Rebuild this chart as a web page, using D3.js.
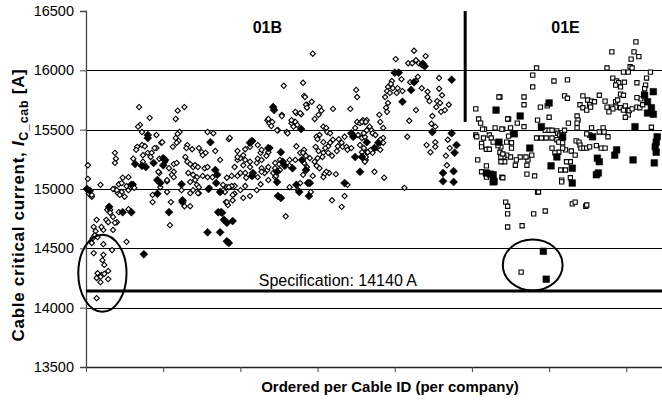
<!DOCTYPE html>
<html>
<head>
<meta charset="utf-8">
<script src="https://cdn.jsdelivr.net/npm/d3@7"></script>
<style>
  html, body { margin: 0; padding: 0; background: #fff; }
  svg { display: block; font-family: "Liberation Sans", Arial, sans-serif; }
</style>
</head>
<body>
<svg id="chart" width="662" height="403"></svg>
<script>
// Cable critical current per cable, ordered by cable ID within each company.
const yTicks = [13500, 14000, 14500, 15000, 15500, 16000, 16500];
const gridValues = [14000, 14500, 15000, 15500, 16000];
const xTicks = [0, 80, 160, 240, 320, 400, 480, 560];
const specValue = 14140;
const specLabel = "Specification: 14140 A";
const companies = ["01B", "01E"];
const companyLabelAt = [188, 497];
const companySplit = 393;           // first cable index of company 01E
const companySplitLow = 15565;      // lower end of the divider line

// [cable index, Ic_cab in A]
const b01Open = [
[2,15200],[2,15085],[3,14960],[6,14935],[15,15035],[31,15255],[30,15220],[34,15040],[30,15000],[33,14965],
[22,14825],[25,14825],[21,14740],[23,14720],[28,14765],[32,14720],[28,14655],[18,14655],[16,14680],[11,14740],
[8,14680],[10,14645],[9,14610],[7,14585],[12,14595],[6,14545],[18,14535],[27,14485],[42,14555],[8,14460],
[18,14445],[17,14400],[19,14360],[23,14310],[12,14290],[16,14275],[19,14285],[15,14260],[11,14250],[23,14240],
[15,14215],[11,14080],[25,14800],[30,14715],[34,14805],[44,14830],[6,14950],[28,15000],[32,14990],[37,14975],
[35,14950],[40,14935],[44,14990],[46,15015],[49,15040],[69,14950],[69,14890],[84,14975],[88,14890],[87,14695],
[102,14855],[108,14855],[117,14965],[111,14990],[128,15010],[145,14890],[147,14865],[154,14960],[146,14890],[177,14990],
[207,14770],[255,14905],[265,14850],[268,14940],[271,15035],[330,15010],
[30,15305],[55,15690],[56,15540],[54,15525],[66,15600],[58,15480],[73,15455],[95,15660],[102,15690],[93,15590],
[97,15480],[95,15465],[93,15430],[96,15405],[126,15480],[132,15470],[148,15420],[78,15390],[58,15370],[61,15360],
[53,15355],[52,15330],[73,15345],[90,15355],[94,15390],[105,15370],[104,15345],[110,15335],[117,15345],[120,15310],
[124,15305],[134,15320],[121,15285],[59,15285],[64,15305],[68,15305],[67,15270],[49,15255],[59,15230],[76,15255],
[82,15230],[91,15210],[94,15220],[103,15270],[105,15230],[108,15210],[111,15185],[113,15200],[116,15185],[123,15175],
[126,15185],[139,15245],[76,15135],[86,15175],[91,15145],[89,15120],[91,15100],[106,15135],[111,15120],[115,15100],
[121,15110],[126,15100],[131,15100],[84,15065],[77,15015],[108,15060],[113,15075],[115,15035],[117,15015],[38,15095],
[44,15100],[37,15050],[42,15025],[49,15035],[50,15010],[99,14990],[108,14965],[116,14965],[146,15015],[146,15095],
[142,15035],[75,15145],[79,15395],[71,15345],[84,15075],
[188,15580],[190,15555],[193,15565],[203,15625],[218,15640],[223,15630],[226,15785],[229,15710],[213,15555],[216,15565],
[208,15480],[199,15495],[191,15345],[181,15305],[218,15360],[222,15305],[226,15330],[211,15245],[201,15160],[196,15100],
[188,15160],[178,15100],[189,15075],[182,15175],[177,15220],[170,15185],[163,15200],[154,15185],[157,15245],[160,15260],
[151,15110],[154,15025],[160,14990],[142,14990],[152,14905],[226,15220],[232,15260],[233,14975],[222,15050],[211,15015],
[235,16140],[205,15870],[225,15895],[280,15835],[281,15775],[227,15775],[234,15735],[228,15710],[229,15685],[242,15690],
[244,15660],[256,15675],[274,15675],[203,15615],[189,15590],[192,15530],[217,15650],[222,15640],[213,15580],[217,15565],
[219,15540],[215,15525],[209,15470],[198,15495],[237,15590],[241,15625],[246,15525],[249,15515],[250,15480],[242,15455],
[239,15440],[240,15420],[246,15395],[238,15355],[241,15320],[246,15305],[253,15470],[256,15415],[262,15420],[268,15440],
[265,15390],[261,15360],[260,15320],[266,15355],[270,15355],[271,15330],[253,15390],[251,15360],[248,15345],[251,15305],
[255,15280],[245,15270],[240,15260],[237,15230],[275,15345],[277,15455],[281,15565],[284,15555],[287,15580],[289,15565],
[291,15580],[279,15515],[282,15455],[286,15430],[289,15440],[284,15370],[288,15345],[291,15310],[290,15245],[289,15230],
[259,15125],[252,15135],[249,15145],[247,15125],[242,15175],[239,15195],[246,15100],[235,15110],[229,15185],[225,15120],
[211,15195],[201,15245],[200,15210],[196,15175],[194,15135],[197,15110],[217,15245],[225,15305],[228,15280],[220,14990],
[185,15135],[181,15040],[165,15245],[165,15135],[170,15230],[160,15135],[157,15110],[166,15095],[165,15025],[170,14940],
[163,14925],[151,15025],[148,15015],[144,14975],[152,14950],[149,15430],[173,15405],[178,15370],[170,15355],[165,15335],
[157,15320],[163,15285],[157,15270],[178,15255],[182,15330],[189,15310],[187,15280],[182,15245],[196,15220],[189,15185],
[182,15145],
[340,16165],[352,16120],[321,16095],[334,16060],[338,16060],[342,16085],[345,16060],[348,16045],[327,15925],[317,15910],
[316,15885],[313,15860],[318,15850],[323,15850],[328,15825],[312,15825],[315,15810],[322,15810],[310,15775],[313,15725],
[311,15685],[312,15650],[304,15625],[305,15565],[308,15515],[335,15575],[342,15665],[336,15900],[342,15910],[344,15945],
[348,15850],[354,15820],[354,15775],[356,15740],[366,15935],[366,15845],[369,15790],[364,15740],[367,15725],[363,15690],
[368,15650],[372,15665],[376,15710],[359,15615],[358,15550],[362,15525],[333,15440],[308,15430],[305,15390],[353,15370],
[362,15395],[362,15355],[357,15310],[375,15415],[377,15345],[373,15280],[374,15200],[299,15145],[309,15095],
[286,15565],[290,15565],[294,15525],[296,15495],[291,15495],[288,15470],[297,15470],[300,15455],[305,15415],[308,15390],
[302,15345],[297,15305],[292,15310],[286,15310],[290,15270],[295,15330],[305,15330]
];

const b01Filled = [
[1,15000],[4,14985],[24,14850],[38,14805],[47,14805],[60,14450],[64,15455],[64,15430],[51,15210],[58,15195],
[70,15220],[82,15245],[74,15075],[77,15050],[99,15040],[100,14905],[74,14960],[86,14805],[100,14890],[129,15395],
[134,15160],[136,15120],[135,15050],[137,14805],[141,14800],[143,14740],[146,14715],[126,14635],[139,14635],[146,14560],
[139,14975],[140,14805],[152,14730],[148,14545],[199,14940],[202,14925],[221,14975],[231,14940],[198,15060],[230,15050],
[268,15050],[194,15690],[195,15665],[223,15505],[275,15470],[277,15440],[291,15395],[279,15270],[286,15270],[284,15145],
[173,15135],[172,15110],[172,15405],[189,15345],[170,15390],[202,15310],[204,15230],[206,15195],[214,15175],[224,15245],
[228,15160],[198,15145],[218,15035],[232,15050],[379,15920],[379,15470],[384,15370],[382,15305],[370,15135],[381,15150],
[370,15065],[381,15060],[359,15480],[328,15735],[337,15835],[320,15980],[324,15980],[349,16055],[351,16035],[340,15900],
[303,15390],[299,15345],[47,15035],[62,15185],[80,15260],[80,15200],[127,15000]
];

const e01Open = [
[570,16240],[545,16155],[568,16155],[573,16115],[565,16095],[564,16030],[566,16020],[562,15985],[557,15985],[540,16020],
[585,15985],[467,16020],[463,15960],[463,15860],[485,15910],[499,15920],[546,15935],[550,15910],[552,15895],[558,15900],
[549,15875],[554,15860],[571,15895],[581,15935],[580,15875],[579,15845],[575,15760],[571,15770],[578,15800],[554,15800],
[557,15790],[515,15785],[532,15790],[496,15785],[499,15765],[520,15750],[524,15740],[527,15735],[538,15740],[540,15690],
[545,15690],[549,15690],[546,15675],[542,15650],[549,15735],[551,15750],[554,15685],[557,15665],[559,15700],[562,15665],
[562,15625],[559,15605],[563,15660],[566,15675],[571,15690],[574,15685],[577,15710],[512,15710],[515,15685],[519,15665],
[522,15710],[523,15690],[509,15615],[510,15580],[500,15555],[509,15555],[478,15700],[471,15690],[480,15605],[468,15580],
[454,15775],[454,15710],[438,15590],[447,15555],[454,15525],[440,15515],[432,15505],[429,15775],[476,15495],[480,15495],
[483,15495],[488,15490],[489,15470],[491,15455],[496,15495],[509,15515],[524,15515],[532,15480],[536,15515],[537,15480],
[541,15440],[522,15455],[519,15465],[442,15465],[438,15445],[467,15430],[472,15430],[477,15430],[483,15430],[488,15415],
[490,15395],[494,15390],[508,15405],[511,15395],[512,15370],[513,15345],[516,15345],[519,15345],[522,15355],[529,15365],
[534,15345],[538,15345],[497,15330],[494,15345],[490,15310],[483,15345],[486,15305],[503,15320],[507,15285],[502,15230],
[498,15230],[492,15160],[497,15160],[493,15075],[502,15095],[462,15285],[458,15245],[457,15200],[457,15125],[465,15110],
[456,15270],[450,15270],[446,15245],[445,15200],[440,15270],[436,15285],[433,15270],[434,15230],[430,15230],[431,15100],
[468,14975],[436,15395],[441,15390],[430,15355],[441,15345],[404,15675],[428,15775],[407,15590],[409,15555],[413,15505],
[411,15505],[424,15515],[431,15505],[437,15590],[404,15455],[405,15440],[412,15430],[418,15455],[420,15430],[422,15395],
[427,15365],[410,15385],[410,15355],[415,15335],[418,15335],[429,15310],[430,15270],[432,15295],[406,15245],[415,15195],
[410,15145],[415,15100],[432,15095],[586,15520],
[435,14890],[437,14855],[437,14790],[437,14680],[452,14690],[464,14790],[469,14975],[476,14815],[504,14875],[507,14890],
[518,14855],[519,14865],[493,15060],[451,14300]
];

const e01Filled = [
[474,14475],[477,14240],[504,15050],[423,15065],[425,15665],[415,15135],[419,15125],[422,15120],[422,15060],[428,15395],
[582,15735],[588,15820],[586,15685],[588,15630],[582,15640],[579,15790],[480,15725],[450,15615],[472,15525],[494,15440],
[444,15465],[525,15440],[550,15330],[548,15285],[569,15525],[592,15440],[591,15395],[590,15355],[591,15310],[567,15245],
[589,15220],[530,15260],[532,15230],[529,15120],[531,15135],[504,15175],[482,15195],[488,15270],[460,15345]
];

// Rings drawn around the cables that fall closest to the specification
const rings = [
  { cx: 17,  cy: 14290, rx: 25, ry: 325 },
  { cx: 463, cy: 14360, rx: 31, ry: 215 }
];

const svg = d3.select("#chart");
const x = d3.scaleLinear().domain([0, 597]).range([86, 662]);
const y = d3.scaleLinear().domain([13500, 16500]).range([367, 11]);

// horizontal grid
svg.append("g")
  .selectAll("line")
  .data(gridValues)
  .join("line")
  .attr("x1", x(0)).attr("x2", x(597))
  .attr("y1", d => Math.round(y(d)) + 0.5).attr("y2", d => Math.round(y(d)) + 0.5)
  .attr("stroke", "#000").attr("stroke-width", 1.1);

// axes
const yAxis = svg.append("g")
  .attr("transform", `translate(${x(0)},0)`)
  .call(d3.axisLeft(y).tickValues(yTicks).tickSize(6).tickPadding(6).tickFormat(d3.format("d")));
yAxis.select(".domain").attr("stroke", "#444").attr("stroke-width", 1.3);
yAxis.selectAll(".tick line").attr("stroke", "#444");
yAxis.selectAll("text").attr("font-size", 14.5).attr("fill", "#000")
  .attr("font-family", "'Liberation Sans', Arial, sans-serif");

const xAxis = svg.append("g")
  .attr("transform", `translate(0,${y(13500)})`)
  .call(d3.axisBottom(x).tickValues(xTicks).tickSize(5).tickSizeOuter(0).tickFormat(""));
xAxis.select(".domain").attr("stroke", "#222").attr("stroke-width", 1.3);
xAxis.selectAll(".tick line").attr("stroke", "#444");

// company divider
svg.append("line")
  .attr("x1", x(companySplit)).attr("x2", x(companySplit))
  .attr("y1", y(16500)).attr("y2", y(companySplitLow))
  .attr("stroke", "#000").attr("stroke-width", 3);

// specification line
svg.append("line")
  .attr("x1", x(0)).attr("x2", x(597))
  .attr("y1", y(specValue)).attr("y2", y(specValue))
  .attr("stroke", "#000").attr("stroke-width", 3);

svg.append("text")
  .attr("x", x(179)).attr("y", y(specValue) - 5)
  .attr("font-size", 16).attr("fill", "#000")
  .text(specLabel);

// markers
const diamond = s => d3.symbol().type(d3.symbolSquare).size(s)();
const plot = (data, path, fill, sw, rot) => {
  svg.append("g")
    .selectAll("path")
    .data(data)
    .join("path")
    .attr("d", path)
    .attr("transform", d => `translate(${x(d[0])},${y(d[1])})${rot ? " rotate(45)" : ""}`)
    .attr("fill", fill)
    .attr("stroke", "#000")
    .attr("stroke-width", sw);
};
plot(b01Open, diamond(14), "#fff", 1.1, true);
plot(b01Filled, diamond(32), "#000", 0.5, true);
plot(e01Open, d3.symbol().type(d3.symbolSquare).size(18)(), "#fff", 1.1, false);
plot(e01Filled, d3.symbol().type(d3.symbolSquare).size(44)(), "#000", 0.5, false);

// rings
svg.append("g")
  .selectAll("ellipse")
  .data(rings)
  .join("ellipse")
  .attr("cx", d => x(d.cx)).attr("cy", d => y(d.cy))
  .attr("rx", d => x(d.cx + d.rx) - x(d.cx))
  .attr("ry", d => y(d.cy - d.ry) - y(d.cy))
  .attr("fill", "none").attr("stroke", "#000").attr("stroke-width", 2);

// company labels
svg.append("g")
  .selectAll("text")
  .data(companies)
  .join("text")
  .attr("x", (d, i) => x(companyLabelAt[i]))
  .attr("y", 33)
  .attr("text-anchor", "middle")
  .attr("font-size", 16).attr("font-weight", "bold")
  .text(d => d);

// axis titles
svg.append("text")
  .attr("x", 390).attr("y", 392)
  .attr("text-anchor", "middle")
  .attr("font-size", 15).attr("font-weight", "bold")
  .text("Ordered per Cable ID (per company)");

const yTitle = svg.append("text")
  .attr("transform", "translate(24,205) rotate(-90)")
  .attr("text-anchor", "middle")
  .attr("font-size", 17).attr("font-weight", "bold")
  .attr("letter-spacing", 0.7);
yTitle.append("tspan").text("Cable critical current, ");
yTitle.append("tspan").attr("font-style", "italic").text("I");
yTitle.append("tspan").attr("font-size", 12.5).attr("dy", 4).text("C_cab");
yTitle.append("tspan").attr("dy", -4).text(" [A]");
</script>
</body>
</html>
